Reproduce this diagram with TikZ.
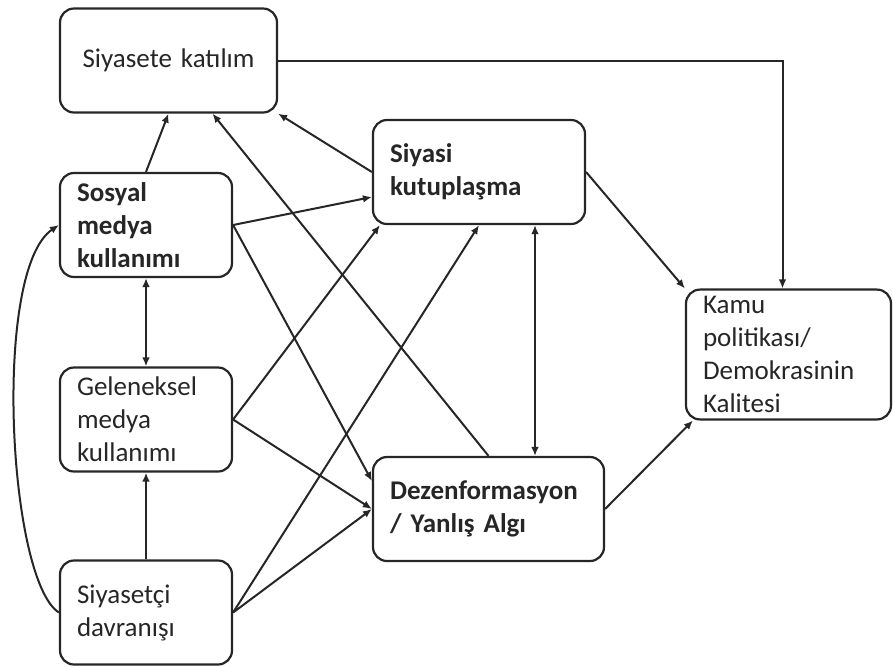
\documentclass[tikz,border=0pt]{standalone}
\usepackage{fontspec}
\setmainfont{Carlito}
\usetikzlibrary{arrows.meta,calc}

\begin{document}
\begin{tikzpicture}[x=0.5pt,y=-0.5pt,
 box/.style={draw=black!85,rounded corners=7pt,line width=1.1pt,align=left,inner xsep=8.5pt,
   minimum height=52pt,font=\fontsize{13.5}{16.5}\selectfont,text=black!85},
 ar/.style={-{Latex[length=4.5pt,width=3.8pt]},line width=1pt,draw=black!85}]
\useasboundingbox (0,0) rectangle (893,666);
\node[box,align=center,text width=91.5pt] (kat) at (168.5,60.5) {Siyasete katılım};
\node[box,text width=69pt,font=\fontsize{13.5}{16.5}\selectfont\bfseries] (sos) at (146,225) {Sosyal\\ medya\\ kullanımı};
\node[box,text width=69pt] (gel) at (146,419.5) {Geleneksel\\ medya\\ kullanımı};
\node[box,text width=69pt] (siy) at (146,612.5) {Siyasetçi\\ davranışı};
\node[box,text width=89pt,font=\fontsize{13.5}{16.5}\selectfont\bfseries] (kut) at (479,172) {Siyasi\\ kutuplaşma};
\node[box,text width=98.5pt,font=\fontsize{13.5}{16.5}\selectfont\bfseries] (dez) at (488.5,509) {Dezenformasyon\\ / Yanlış Algı};
\node[box,text width=85.5pt,minimum height=64.5pt] (kamu) at (788.5,354.5) {Kamu\\ politikası/\\ Demokrasinin\\ Kalitesi};
\coordinate (kd) at ([xshift=28pt]kut.south);
% left column
\draw[ar] (sos.north) -- (kat.south);
\draw[ar,{Latex[length=4.5pt,width=3.8pt]}-{Latex[length=4.5pt,width=3.8pt]}] (sos.south) -- (gel.north);
\draw[ar] (siy.north) -- (gel.south);
\draw[ar] (siy.west) .. controls (8,580) and (-8,270) .. (sos.west);
% to the middle
\draw[ar] (sos.east) -- ([yshift=-12.5pt]kut.west);
\draw[ar] (sos.east) -- ([yshift=14pt]dez.west);
\draw[ar] (gel.east) -- ([xshift=4pt]kut.south west);
\draw[ar] (gel.east) -- (dez.west);
\draw[ar] (siy.east) -- (dez.west);
\draw[ar] (siy.east) -- (kut.south);
\draw[ar] (kut.west) -- (kat.south east);
\draw[ar] (dez.north) -- ([xshift=22pt]kat.south);
\draw[ar,{Latex[length=4.5pt,width=3.8pt]}-{Latex[length=4.5pt,width=3.8pt]}] (kd) -- (kd |- dez.north);
% to the right
\draw[ar] (kat.east) -| ([xshift=-3pt]kamu.north);
\draw[ar] (kut.east) -- (kamu.north west);
\draw[ar] (dez.east) -- ([xshift=4pt]kamu.south west);
\end{tikzpicture}
\end{document}
